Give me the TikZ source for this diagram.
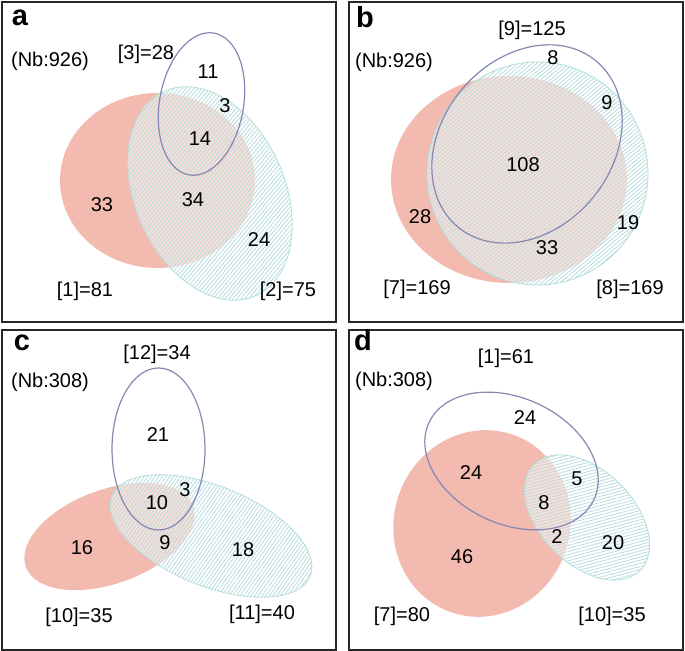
\documentclass[tikz,border=0pt]{standalone}
\usepackage{fontspec}
\setmainfont{Liberation Sans}
\usepackage{xcolor}
\definecolor{redc}{HTML}{F3BBB0}
\definecolor{hatchc}{HTML}{B6DCDE}
\definecolor{cyanedgec}{HTML}{B4DEDE}
\definecolor{bluec}{HTML}{8787B3}
\usepackage{tikz}
\usetikzlibrary{patterns.meta}
\tikzset{
  panel/.style={draw=black!85,line width=1pt},
  redfill/.style={fill=redc},
  whiten/.style={fill=white,fill opacity=0.5},
  cyanedge/.style={draw=cyanedgec,line width=0.4pt},
  blueedge/.style={draw=bluec,line width=0.6pt},
  cnt/.style={font=\fontsize{10}{12}\selectfont,inner sep=0pt},
  tag/.style={font=\fontsize{14.5}{16}\selectfont\bfseries,inner sep=0pt},
}
% one set = one ellipse: centre, x radius, y radius, rotation
\newcommand{\redset}[4]{\fill[redfill] (#1) ellipse [x radius=#2, y radius=#3, rotate=#4];}
\newcommand{\cyanset}[5]{%
  \fill[whiten] (#1) ellipse [x radius=#2, y radius=#3, rotate=#4];
  \fill[pattern={Lines[angle=#5,distance=1.5pt,line width=0.4pt]},pattern color=hatchc]
    (#1) ellipse [x radius=#2, y radius=#3, rotate=#4];
  \draw[cyanedge] (#1) ellipse [x radius=#2, y radius=#3, rotate=#4];}
\newcommand{\blueset}[4]{\draw[blueedge] (#1) ellipse [x radius=#2, y radius=#3, rotate=#4];}
\newcommand{\cnt}[3]{\node[cnt] (#1) at (#2) {#3};}

\begin{document}
\begin{tikzpicture}[x=0.5pt,y=0.5pt]
  \useasboundingbox (0,0) rectangle (685,651);
  % frames
  \draw[panel] (2,649) rectangle (336,329);
  \draw[panel] (349,649) rectangle (683,329);
  \draw[panel] (2,321) rectangle (336,1);
  \draw[panel] (349,321) rectangle (683,1);

  % a
  \redset{157.5,470.5}{97.5}{87.5}{0}
  \cyanset{210,457.5}{75}{112}{24}{50}
  \blueset{201.5,547}{42}{72}{-10}
  \node[tag] (ta) at (20,633) {a};
  \cnt{nba}{50,590}{(Nb:926)}
  \cnt{la3}{146,597}{[3]=28}
  \cnt{a11}{208,579}{11}
  \cnt{a3}{225,545}{3}
  \cnt{a14}{200,512}{14}
  \cnt{a33}{102,446}{33}
  \cnt{a34}{193,451}{34}
  \cnt{a24}{259,411}{24}
  \cnt{la1}{85,360}{[1]=81}
  \cnt{la2}{288,360}{[2]=75}

  % b
  \redset{509,471.5}{118}{103.5}{0}
  \cyanset{537.5,477.5}{110.5}{111.5}{0}{40}
  \blueset{527,507}{108}{85}{50}
  \node[tag] (tb) at (365,634) {b};
  \cnt{lb9}{532,621}{[9]=125}
  \cnt{nbb}{394,589}{(Nb:926)}
  \cnt{b8}{553,593}{8}
  \cnt{b9}{607,548}{9}
  \cnt{b108}{523,486}{108}
  \cnt{b28}{420,434}{28}
  \cnt{b19}{628,428}{19}
  \cnt{b33}{547,403}{33}
  \cnt{lb7}{417,362}{[7]=169}
  \cnt{lb8}{630,362}{[8]=169}

  % c
  \redset{109.5,114.5}{89}{47}{20}
  \cyanset{211,115}{107}{50}{-22}{55}
  \blueset{158.5,202}{46.5}{81}{0}
  \node[tag] (tc) at (22,308) {c};
  \cnt{lc12}{157,297}{[12]=34}
  \cnt{nbc}{50,269}{(Nb:308)}
  \cnt{c21}{158,216}{21}
  \cnt{c3}{185,161}{3}
  \cnt{c10}{157,148}{10}
  \cnt{c9}{165,108}{9}
  \cnt{c16}{82,103}{16}
  \cnt{c18}{243,101}{18}
  \cnt{lc10}{79,34}{[10]=35}
  \cnt{lc11}{262,37}{[11]=40}

  % d
  \redset{482,127.5}{88}{94}{-20}
  \cyanset{587,133.5}{75}{47}{-45}{15}
  \blueset{511.5,190}{91}{63}{-25}
  \node[tag] (td) at (363,311) {d};
  \cnt{ld1}{506,293}{[1]=61}
  \cnt{nbd}{394,270}{(Nb:308)}
  \cnt{d24t}{525,233}{24}
  \cnt{d24}{471,178}{24}
  \cnt{d5}{577,172}{5}
  \cnt{d8}{544,148}{8}
  \cnt{d2}{557,114}{2}
  \cnt{d20}{613,108}{20}
  \cnt{d46}{462,94}{46}
  \cnt{ld7}{402,35}{[7]=80}
  \cnt{ld10}{612,35}{[10]=35}
\end{tikzpicture}
\end{document}
